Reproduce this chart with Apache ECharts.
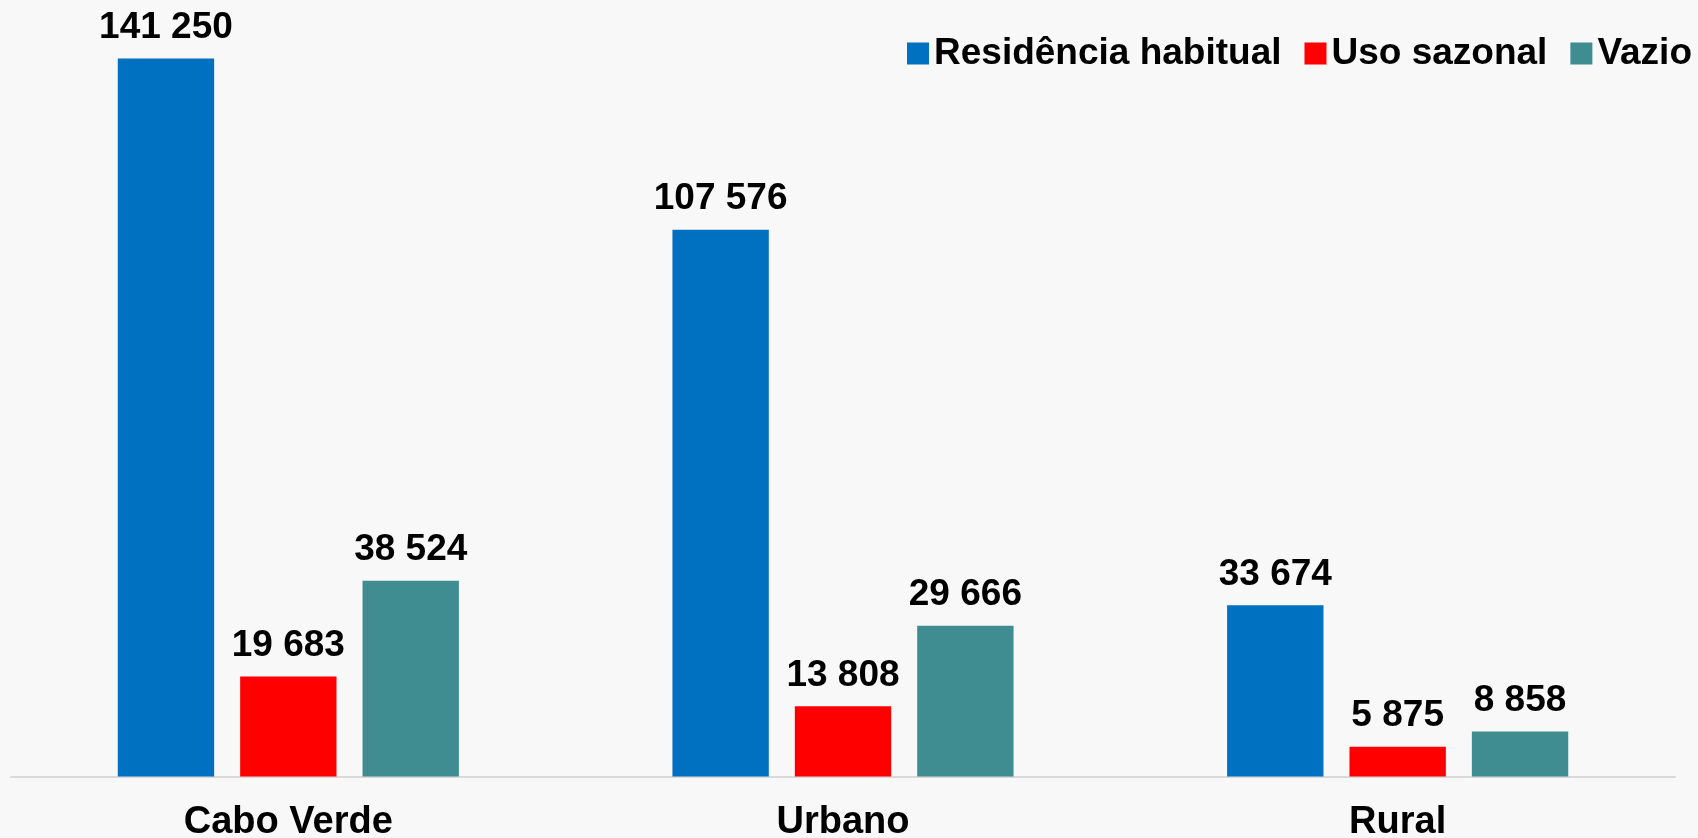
<!DOCTYPE html>
<html>
<head>
<meta charset="utf-8">
<script src="https://cdn.jsdelivr.net/npm/echarts@6/dist/echarts.min.js"></script>
<style>
  html, body { margin: 0; padding: 0; background: #f8f8f8; }
  #chart { width: 1698px; height: 838px; }
</style>
</head>
<body>
<div id="chart"></div>
<script>
// dados
const categories = ["Cabo Verde", "Urbano", "Rural"];
const seriesNames = ["Residência habitual", "Uso sazonal", "Vazio"];
const residencia = [141250, 107576, 33674];
const sazonal = [19683, 13808, 5875];
const vazio = [38524, 29666, 8858];
const colors = ["#0070c0", "#ff0000", "#3f8c91"];

const fontFamily = "'Liberation Sans', Arial, sans-serif";

// 141250 -> "141 250"
const fmt = (v) => String(v).replace(/\B(?=(\d{3})+(?!\d))/g, " ");

const chart = echarts.init(document.getElementById("chart"));

const makeSeries = (name, data, color) => ({
  name: name,
  type: "bar",
  data: data,
  barGap: "27%",
  barCategoryGap: "38.5%",
  itemStyle: { color: color },
  label: {
    show: true,
    position: "top",
    distance: 12,
    color: "#000",
    fontFamily: fontFamily,
    fontWeight: "bold",
    fontSize: 37,
    formatter: (p) => fmt(p.value),
  },
});

chart.setOption({
  backgroundColor: "#f8f8f8",
  animation: false,
  grid: { left: 11, right: 23, top: 14, bottom: 61.5, outerBoundsMode: "none" },
  legend: {
    left: 902,
    top: 30,
    width: 795,
    itemWidth: 22,
    itemHeight: 22,
    itemGap: 23,
    itemTextGap: 9,
    icon: "rect",
    textStyle: {
      color: "#000",
      fontFamily: fontFamily,
      fontWeight: "bold",
      fontSize: 37,
    },
    data: seriesNames,
  },
  xAxis: {
    type: "category",
    data: categories,
    axisLine: { lineStyle: { color: "#d9d9d9", width: 2 } },
    axisTick: { show: false },
    axisLabel: {
      color: "#000",
      fontFamily: fontFamily,
      fontWeight: "bold",
      fontSize: 38,
      margin: 27,
    },
  },
  yAxis: {
    type: "value",
    min: 0,
    max: 150000,
    show: false,
    splitLine: { show: false },
  },
  series: [
    makeSeries(seriesNames[0], residencia, colors[0]),
    makeSeries(seriesNames[1], sazonal, colors[1]),
    makeSeries(seriesNames[2], vazio, colors[2]),
  ],
});
</script>
</body>
</html>
